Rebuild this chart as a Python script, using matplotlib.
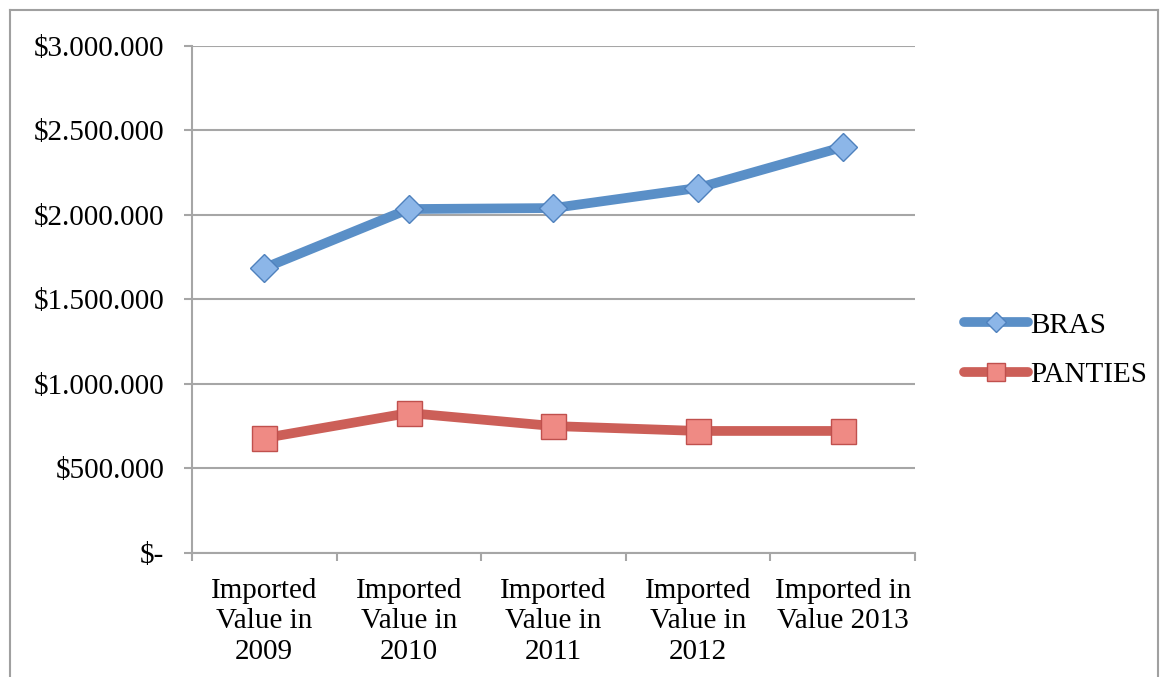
import matplotlib.pyplot as plt
from matplotlib.lines import Line2D

plt.rcParams['font.family'] = ['Liberation Serif', 'DejaVu Serif']

categories = ['Imported\nValue in\n2009', 'Imported\nValue in\n2010', 'Imported\nValue in\n2011',
              'Imported\nValue in\n2012', 'Imported in\nValue 2013']
bras = [1686000, 2035000, 2041000, 2160000, 2402000]
panties = [680000, 828000, 751000, 722000, 722000]
y_ticks = [0, 500000, 1000000, 1500000, 2000000, 2500000, 3000000]
y_labels = ['$-', '$500.000', '$1.000.000', '$1.500.000', '$2.000.000', '$2.500.000', '$3.000.000']

grid_col = '#a6a6a6'
fs = 21

fig = plt.figure(figsize=(11.6, 6.77), dpi=100)
ax = fig.add_axes([0.1655, 0.1832, 0.6233, 0.7489])

x = range(len(categories))
ax.plot(x, bras, color='#5a8fc7', lw=7, marker='D', ms=14, mfc='#8cb6e8',
        mec='#4f81bd', mew=1, label='BRAS', solid_capstyle='round', zorder=3)
ax.plot(x, panties, color='#cc5f58', lw=7, marker='s', ms=18, mfc='#ef8a84',
        mec='#c0504d', mew=1, label='PANTIES', solid_capstyle='round', zorder=3)

ax.set_xlim(-0.5, len(categories) - 0.5)
ax.set_ylim(0, 3000000)
ax.set_yticks(y_ticks)
ax.set_yticklabels(y_labels, fontsize=fs)
ax.yaxis.grid(True, color=grid_col, lw=1.5)
ax.set_axisbelow(True)

# category boundaries get the tick marks, labels sit in between
ax.set_xticks([i - 0.5 for i in range(len(categories) + 1)])
ax.set_xticklabels([])
ax.set_xticks(list(x), minor=True)
ax.set_xticklabels(categories, minor=True, fontsize=fs, linespacing=1.22)
ax.tick_params(axis='x', which='minor', length=0, pad=18)
ax.tick_params(axis='x', which='major', length=6, width=1.5, color=grid_col)
ax.tick_params(axis='y', length=6, width=1.5, color=grid_col, pad=14)

for s in ['top', 'right']:
    ax.spines[s].set_visible(False)
for s in ['left', 'bottom']:
    ax.spines[s].set_color(grid_col)
    ax.spines[s].set_linewidth(1.5)

ax.legend(loc='center left', bbox_to_anchor=(1.048, 0.40), frameon=False, fontsize=fs,
          handlelength=2.2, handletextpad=0.05, labelspacing=0.8, borderpad=0,
          markerscale=0.75)

# outer chart border
for xs, ys in [([10, 10], [0, 667]), ([10, 1158], [667, 667]), ([1158, 1158], [0, 667])]:
    fig.add_artist(Line2D([v / 1160 for v in xs], [v / 677 for v in ys], color='#a0a0a0', lw=1.5))

fig.savefig('out.png', dpi=100)
